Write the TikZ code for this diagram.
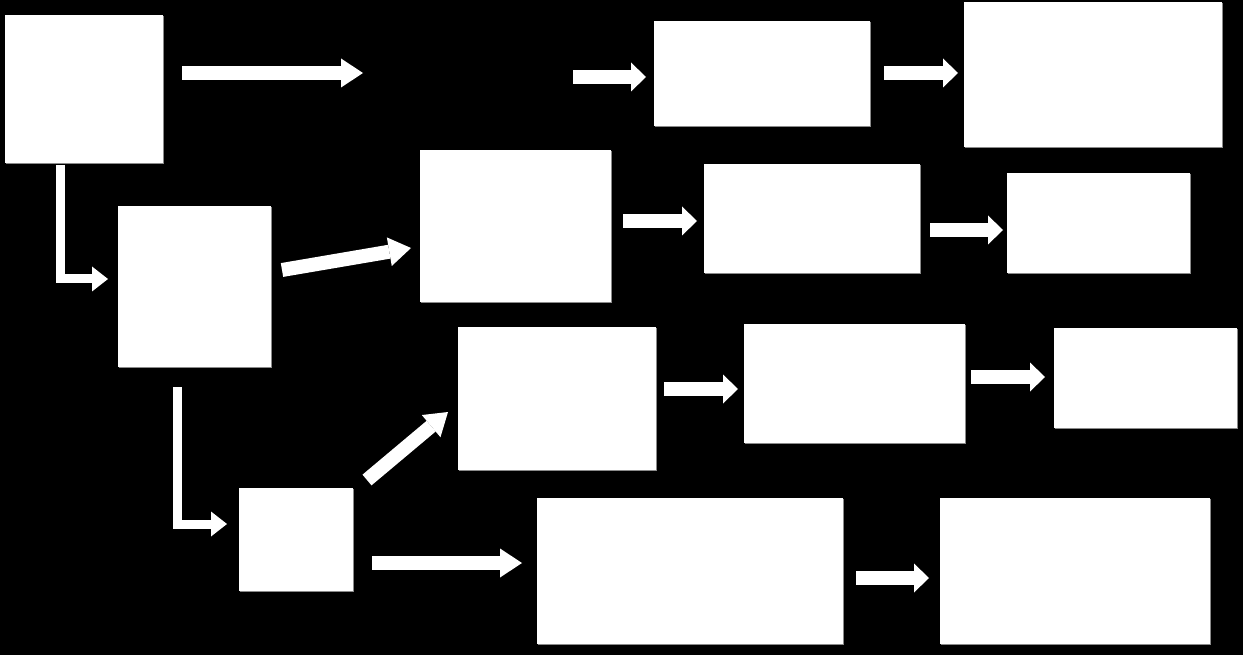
\documentclass[tikz,border=0pt]{standalone}
\usetikzlibrary{arrows.meta,calc,shadows}

\tikzset{
  box/.style={fill=white, inner sep=0pt, outer sep=0pt,
    drop shadow={shadow xshift=0.8pt, shadow yshift=-1.2pt, fill=gray!80, opacity=0.9}},
  flow/.style={white, line width=14pt, -{Triangle[width=29pt,length=15pt,line width=0pt]}},
  flowlong/.style={white, line width=14pt, -{Triangle[width=29pt,length=22pt,line width=0pt]}},
  flowbend/.style={white, line width=9pt, -{Triangle[width=25pt,length=16pt,line width=0pt]}}
}

\begin{document}
\begin{tikzpicture}[x=1pt,y=-1pt]
  \fill[black] (0,0) rectangle (1243,655);
  \useasboundingbox (0,0) rectangle (1243,655);
  % boxes: name/centre x/centre y/width/height
  \foreach \n/\x/\y/\w/\h in {A/84/89/158/148, B/194.5/286.5/153/161, C/296/539.5/114/103,
      D/762/73.5/216/105, E/1093/74.5/258/145,
      F/515.5/226/191/152, G/812/218.5/216/109, H/1098.5/223/183/100,
      I/557/398.5/198/143, J/854.5/383.5/221/119, K/1145.5/378/183/100,
      L/690/571/306/146, M/1075/571/270/146}
    \node[box, minimum width=\w pt, minimum height=\h pt] (\n) at (\x,\y) {};
  \coordinate (freeend) at (363,73);
  \coordinate (freestart) at (573,77);
  % top row
  \draw[flowlong] ($(A.east)+(19,-16)$) -- (freeend);
  \draw[flow] (freestart) -- ($(D.west)+(-8,3.5)$);
  \draw[flow] ($(D.east)+(14,-0.5)$) -- ($(E.west)+(-6,-1.5)$);
  % bends down the left side
  \draw[flowbend] ($(A.south)+(-24,2)$) |- ($(B.west)+(-10,-7.5)$);
  \draw[flowbend] ($(B.south)+(-17.5,20)$) |- ($(C.west)+(-12,-15.5)$);
  % out of B and C
  \draw[flowlong] ($(B.east)+(11,-16.5)$) -- ($(F.west)+(-9,22)$);
  \draw[flowlong] ($(C.north east)+(14,-8)$) -- ($(I.west)+(-10,13.5)$);
  \draw[flowlong] ($(C.east)+(19,23.5)$) -- ($(L.west)+(-15,-8)$);
  % rows to the right
  \draw[flow] ($(F.east)+(12,-5)$) -- ($(G.west)+(-7,2.5)$);
  \draw[flow] ($(G.east)+(10,11.5)$) -- ($(H.west)+(-4,7)$);
  \draw[flow] ($(I.east)+(8,-9.5)$) -- ($(J.west)+(-6,5.5)$);
  \draw[flow] ($(J.east)+(6,-6.5)$) -- ($(K.west)+(-9,-1)$);
  \draw[flow] ($(L.east)+(13,7)$) -- ($(M.west)+(-11,7)$);
\end{tikzpicture}
\end{document}
